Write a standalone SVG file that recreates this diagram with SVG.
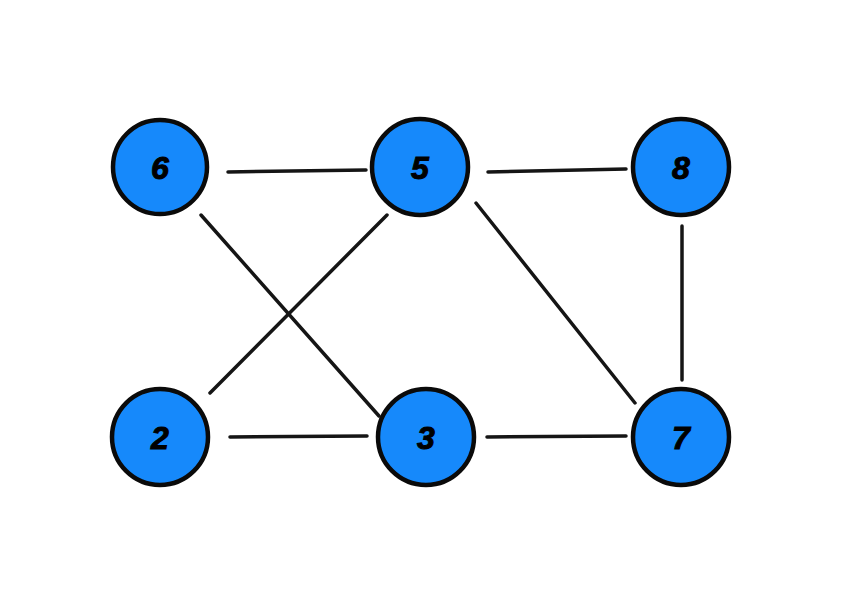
<svg xmlns="http://www.w3.org/2000/svg" width="842" height="616" viewBox="0 0 842 616">
<style>
.node circle{fill:#1689fb;stroke:#0a0a0a;stroke-width:4.5}
.node text{font-family:"Liberation Sans Narrow","Liberation Sans",Arial,sans-serif;font-weight:bold;font-style:italic;font-size:32px;fill:#000;stroke:#000;stroke-width:1;text-anchor:middle;dominant-baseline:central}
#edges line{stroke:#151515;stroke-width:3.5;stroke-linecap:round}
</style>
<rect width="842" height="616" fill="#fff"/>
<g id="edges">
<line x1="228" y1="172" x2="366" y2="170"/>
<line x1="488" y1="172" x2="626" y2="169"/>
<line x1="201" y1="215" x2="379" y2="416"/>
<line x1="210" y1="393" x2="387" y2="215"/>
<line x1="476" y1="203" x2="635" y2="403"/>
<line x1="682" y1="226" x2="682" y2="380"/>
<line x1="230" y1="437" x2="367" y2="436"/>
<line x1="487" y1="437" x2="626" y2="436"/>
</g>
<g id="n6" class="node"><circle cx="160" cy="167" r="47"/><text x="160" y="168">6</text></g>
<g id="n5" class="node"><circle cx="420" cy="167" r="48"/><text x="420" y="168">5</text></g>
<g id="n8" class="node"><circle cx="681" cy="167" r="48"/><text x="681" y="168">8</text></g>
<g id="n2" class="node"><circle cx="160" cy="437" r="48"/><text x="160" y="438">2</text></g>
<g id="n3" class="node"><circle cx="426" cy="437" r="48"/><text x="426" y="438">3</text></g>
<g id="n7" class="node"><circle cx="681" cy="437" r="48"/><text x="681" y="438">7</text></g>
</svg>
